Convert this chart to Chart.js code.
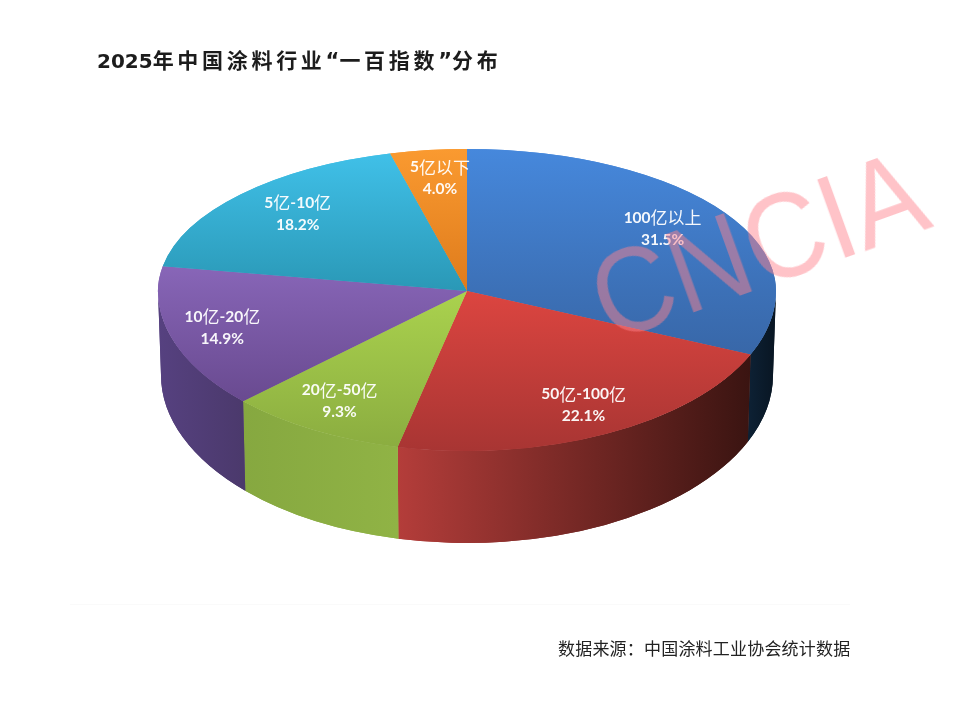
<!DOCTYPE html>
<html lang="zh">
<head>
<meta charset="utf-8">
<title>2025年中国涂料行业“一百指数”分布</title>
<script src="https://cdn.jsdelivr.net/npm/chart.js@4"></script>
<style>
  html, body { margin: 0; padding: 0; background: #fff; }
  #page { position: relative; width: 959px; height: 710px; overflow: hidden; }
  #pie { position: absolute; left: 0; top: 0; }
  #heading {
    position: absolute; left: 97px; top: 43px; white-space: nowrap;
    font: bold 21px "Noto Sans CJK SC", sans-serif; letter-spacing: 3.7px; color: #1c1c1c; line-height: 32px;
  }
  #heading .num { font: bold 20px "DejaVu Sans", sans-serif; letter-spacing: 0; }
  #heading .quote { font: bold 21px "DejaVu Sans", sans-serif; letter-spacing: 0; }
  #source {
    position: absolute; left: 558px; top: 636px; white-space: nowrap;
    font: 17px "Noto Sans CJK SC", sans-serif; letter-spacing: 0.2px; color: #222; line-height: 24px;
  }
  #rule { position: absolute; left: 70px; top: 604px; width: 780px; height: 1px; background: #fafafa; }
  #mark {
    position: absolute; left: 610px; top: 238px; white-space: nowrap; transform-origin: 0 106px;
    transform: rotate(-19.8deg) scaleY(1.08); font: 111px "Liberation Sans", sans-serif; line-height: 135px;
    color: rgba(255, 130, 140, 0.48);
  }
</style>
</head>
<body>
<div id="page">
  <canvas id="pie" width="959" height="710"></canvas>
  <div id="heading"><span class="num">2025</span>年中国涂料行业<span class="quote">“</span>一百指数<span class="quote">”</span>分布</div>
  <div id="rule"></div>
  <div id="source">数据来源：中国涂料工业协会统计数据</div>
  <div id="mark">CNCIA</div>
</div>
<script>
const CATEGORIES = ['100亿以上', '50亿-100亿', '20亿-50亿', '10亿-20亿', '5亿-10亿', '5亿以下'];
const VALUES = [31.5, 22.1, 9.3, 14.9, 18.2, 4.0];

// top face gradient, light to dark going down each slice
const TOP_COLORS = [
  ['#4688dc', '#3867a8'],
  ['#dc4540', '#a83533'],
  ['#aad24e', '#8bad40'],
  ['#8866b8', '#694a90'],
  ['#40c0e8', '#2a98b6'],
  ['#fa9a30', '#de7b1c'],
];
// side wall gradient, left to right
const WALL_COLORS = [
  ['#0d2033', '#081522'],
  ['#b43d3a', '#3a1411'],
  ['#86a840', '#90b345'],
  ['#564180', '#4b396c'],
  ['#222', '#222'],
  ['#222', '#222'],
];
// label offsets from the 0.8 radius spot, the picture's labels are hand placed
const LABEL_NUDGE = [[-11, 0], [5, 0], [-5, -1], [-8, 0], [12, 0], [4, 0]];

// the flat pie is stretched into the perspective ellipse at draw time
const RX = 309;
const RY_UP = 142;
const RY_DOWN = 160;
const WALL_RX = 306;
const WALL_RY = 168;
const WALL_DROP = 84;

function sliceExtent(i) {
  const total = VALUES.reduce((a, b) => a + b, 0);
  const before = VALUES.slice(0, i).reduce((a, b) => a + b, 0);
  const a0 = -Math.PI / 2 + (before / total) * Math.PI * 2;
  const a1 = a0 + (VALUES[i] / total) * Math.PI * 2;
  const ys = [0, Math.sin(a0), Math.sin(a1)];
  if (a0 <= Math.PI / 2 && a1 >= Math.PI / 2) ys.push(1);
  if (a1 >= Math.PI * 1.5 || a0 <= -Math.PI / 2) ys.push(-1);
  return [Math.min(...ys), Math.max(...ys)];
}

function faceGradient(context) {
  const area = context.chart.chartArea;
  const i = context.dataIndex;
  if (!area) return TOP_COLORS[i][0];
  const r = (area.bottom - area.top) / 2;
  const cy = area.top + r;
  const [lo, hi] = sliceExtent(i);
  const g = context.chart.ctx.createLinearGradient(0, cy + lo * r, 0, cy + hi * r);
  g.addColorStop(0, TOP_COLORS[i][0]);
  g.addColorStop(1, TOP_COLORS[i][1]);
  return g;
}

function drawWall(ctx, arc, i) {
  const a0 = Math.max(arc.startAngle, 0);
  const a1 = Math.min(arc.endAngle, Math.PI);
  if (a1 <= a0) return;
  const xs = [Math.cos(a0) * RX, Math.cos(a1) * RX];
  const g = ctx.createLinearGradient(arc.x + Math.min(...xs), 0, arc.x + Math.max(...xs), 0);
  g.addColorStop(0, WALL_COLORS[i][0]);
  g.addColorStop(1, WALL_COLORS[i][1]);
  ctx.beginPath();
  ctx.ellipse(arc.x, arc.y, RX, RY_DOWN, 0, a0, a1);
  ctx.ellipse(arc.x, arc.y + WALL_DROP, WALL_RX, WALL_RY, 0, a1, a0, true);
  ctx.closePath();
  ctx.fillStyle = g;
  ctx.fill();
  ctx.fill(); // second pass hides the seam between neighbours
}

function drawFaceHalf(chart, arcs, ry, clipTop, clipHeight) {
  const ctx = chart.ctx;
  const { x, y, outerRadius: r } = arcs[0];
  ctx.save();
  ctx.beginPath();
  ctx.rect(0, clipTop, chart.width, clipHeight);
  ctx.clip();
  ctx.translate(x, y);
  ctx.scale(RX / r, ry / r);
  ctx.translate(-x, -y);
  arcs.forEach(arc => arc.draw(ctx));
  arcs.forEach(arc => arc.draw(ctx)); // second pass hides the seam
  ctx.restore();
}

function drawRuns(ctx, text, cx, cy) {
  const runs = text.match(/[\x00-\x7f]+|[^\x00-\x7f]+/g);
  const fontFor = run => /[\x00-\x7f]/.test(run[0]) ? 'bold 15.5px Lato' : '17px "Noto Sans CJK SC"';
  let width = 0;
  runs.forEach(run => {
    ctx.font = fontFor(run);
    width += ctx.measureText(run).width;
  });
  let x = cx - width / 2;
  runs.forEach(run => {
    ctx.font = fontFor(run);
    ctx.fillText(run, x, cy);
    x += ctx.measureText(run).width;
  });
}

const squashedPie = {
  id: 'squashedPie',
  beforeDatasetDraw(chart, args) {
    const arcs = chart.getDatasetMeta(args.index).data;
    const ctx = chart.ctx;
    const y = arcs[0].y;
    arcs.forEach((arc, i) => drawWall(ctx, arc, i));
    drawFaceHalf(chart, arcs, RY_UP, 0, y);
    drawFaceHalf(chart, arcs, RY_DOWN, y, chart.height - y);
    return false;
  },
  afterDraw(chart) {
    const arcs = chart.getDatasetMeta(0).data;
    const ctx = chart.ctx;
    ctx.save();
    ctx.fillStyle = 'rgba(255, 255, 255, 0.95)';
    ctx.textBaseline = 'middle';
    arcs.forEach((arc, i) => {
      const mid = (arc.startAngle + arc.endAngle) / 2;
      const s = Math.sin(mid);
      const lx = arc.x + 0.8 * RX * Math.cos(mid) + LABEL_NUDGE[i][0];
      const ly = arc.y + 0.8 * (s > 0 ? RY_DOWN : RY_UP) * s + LABEL_NUDGE[i][1];
      drawRuns(ctx, CATEGORIES[i], lx, ly - 11);
      drawRuns(ctx, VALUES[i].toFixed(1) + '%', lx, ly + 11);
    });
    ctx.restore();
  },
};

new Chart(document.getElementById('pie'), {
  type: 'pie',
  data: {
    labels: CATEGORIES,
    datasets: [{
      data: VALUES,
      backgroundColor: faceGradient,
      borderWidth: 0,
    }],
  },
  options: {
    responsive: false,
    animation: false,
    layout: { padding: { left: 197, right: 222, top: 21, bottom: 149 } },
    plugins: {
      legend: { display: false },
      tooltip: { enabled: false },
    },
  },
  plugins: [squashedPie],
});
</script>
</body>
</html>
